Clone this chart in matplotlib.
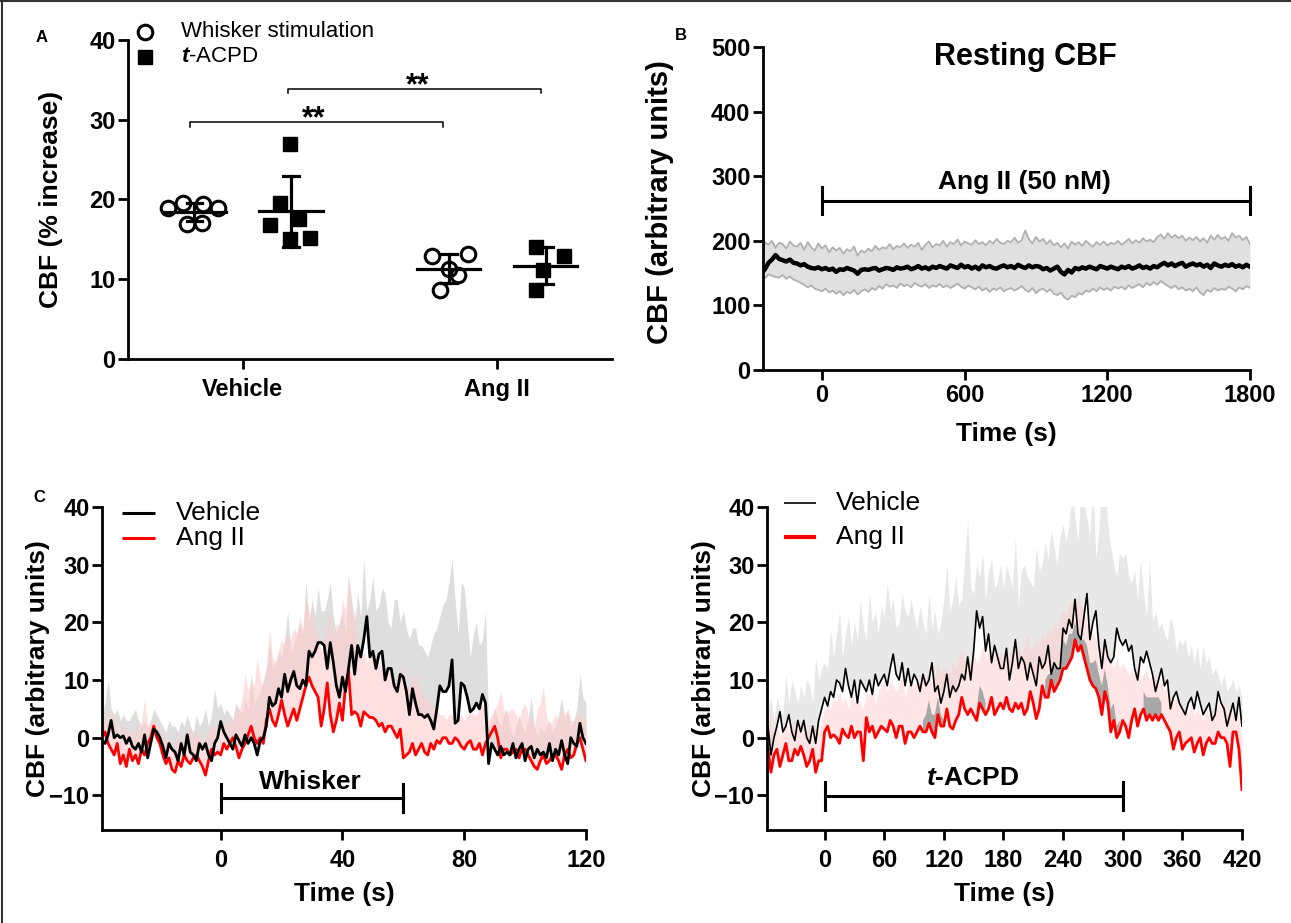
import numpy as np
import matplotlib.pyplot as plt
from matplotlib.lines import Line2D

plt.rcParams["font.family"] = ["Liberation Sans", "DejaVu Sans"]
plt.rcParams["font.weight"] = "bold"
plt.rcParams["axes.labelweight"] = "bold"
plt.rcParams["mathtext.fontset"] = "custom"
plt.rcParams["mathtext.rm"] = "Liberation Sans"
plt.rcParams["mathtext.it"] = "Liberation Sans:italic"
plt.rcParams["mathtext.bf"] = "Liberation Sans:bold"
plt.rcParams["mathtext.bfit"] = "Liberation Sans:italic:bold"

# ---- panel A: % increase in CBF per animal ----
group_labels = ["Vehicle", "Ang II"]
whisker_vehicle = [18.9, 19.5, 19.4, 18.9, 16.9, 17.0]
tacpd_vehicle = [26.9, 19.6, 16.8, 17.5, 15.0, 15.2]
whisker_angii = [12.9, 13.1, 11.3, 10.5, 8.7]
tacpd_angii = [14.05, 12.9, 11.1, 8.7]
# horizontal scatter of the points inside each column
whisker_vehicle_dx = [-0.104, -0.045, 0.033, 0.092, -0.030, 0.029]
tacpd_vehicle_dx = [-0.003, -0.042, -0.083, 0.033, -0.003, 0.073]
whisker_angii_dx = [-0.065, 0.075, 0.0, 0.035, -0.036]
tacpd_angii_dx = [-0.04, 0.07, -0.01, -0.04]

# ---- panel B: resting CBF, t = -255 .. 1800 s every 15 s ----
rest_t0, rest_dt = -255, 15
rest_mean = [
    150, 156, 166, 171, 178, 172, 170, 168, 171, 166,
    165, 162, 164, 160, 158, 157, 159, 156, 158, 155,
    157, 152, 156, 155, 158, 156, 154, 149, 155, 156,
    155, 157, 158, 154, 156, 158, 157, 155, 159, 157,
    158, 160, 156, 158, 161, 157, 159, 156, 160, 158,
    161, 159, 157, 162, 160, 158, 163, 159, 161, 157,
    160, 156, 162, 159, 161, 158, 157, 160, 162, 159,
    161, 158, 163, 160, 158, 162, 159, 161, 160, 156,
    158, 154, 157, 160, 152, 148, 155, 151, 158, 156,
    159, 157, 160, 158, 156, 161, 159, 157, 160, 158,
    156, 160, 158, 161, 157, 159, 162, 158, 160, 157,
    161, 159, 163, 166, 162, 165, 161, 164, 166, 160,
    163, 165, 162, 164, 160, 163, 158, 165, 162, 160,
    163, 161, 164, 160, 162, 159, 163, 160,
]
rest_upper = [
    160, 198, 194, 200, 189, 197, 195, 188, 199, 193,
    191, 197, 186, 198, 190, 185, 196, 188, 193, 182,
    190, 185, 189, 180, 187, 184, 191, 177, 185, 182,
    188, 184, 192, 186, 190, 188, 195, 187, 192, 190,
    196, 189, 194, 191, 197, 186, 194, 199, 190, 195,
    193, 200, 191, 198, 195, 202, 193, 199, 196, 194,
    201, 195, 198, 193, 200, 196, 203, 197, 195, 200,
    198, 205, 197, 201, 216, 203, 196, 206, 199, 203,
    195, 201, 193, 197, 190, 196, 188, 199, 194, 198,
    192, 200, 195, 191, 198, 194, 199, 193, 197, 195,
    200, 194, 198, 203, 196, 201, 197, 204, 199, 202,
    198, 206, 210, 203, 212, 205, 209, 204, 208, 200,
    205, 201, 206, 199, 204, 197, 208, 202, 209, 203,
    206, 200, 212, 205, 208, 201, 206, 195,
]
rest_lower = [
    140, 142, 148, 146, 144, 143, 147, 141, 145, 140,
    138, 135, 132, 128, 131, 126, 124, 122, 126, 120,
    123, 118, 122, 116, 121, 119, 124, 117, 122, 125,
    121, 127, 124, 130, 126, 133, 129, 131, 127, 134,
    130, 132, 128, 135, 131, 129, 133, 127, 131, 129,
    133, 128, 131, 127, 130, 134, 129, 126, 131, 128,
    125, 129, 123, 127, 121, 126, 124, 128, 122, 125,
    127, 123, 126, 130, 124, 121, 127, 119, 124, 126,
    121, 125, 118, 116, 120, 112, 109, 115, 113, 119,
    117, 123, 121, 126, 122, 128, 124, 127, 123, 129,
    126, 129, 125, 131, 127, 130, 133, 128, 135, 131,
    136, 132, 138, 134, 130, 127, 131, 125, 128, 123,
    126, 122, 128, 120, 116, 124, 121, 127, 123, 126,
    124, 129, 126, 122, 128, 125, 130, 127,
]

# ---- panel C left: whisker response, t = -39 .. 120 s every 1 s ----
whisk_t0, whisk_dt = -39, 1
whisk_vehicle = [
    -0.5, -1, 0.5, 3, 0, 0.5, 0, 0.3, -1, 0,
    -1.5, -2, -1, -2.5, 0.5, -3.5, -1, 1.5, 1, 0,
    -1.5, -3.5, -1, -2, -2.5, -4, -1, -3, 0.5, -2.5,
    -3, -4, -1, -2, -1, -3, -4, -1, 0, 2.8,
    1, 0, -1, -2, 0.5, -0.5, -1.5, 0.5, -1, 0,
    -1, -3, -0.5, 0, 2, 7, 5.5, 6, 8.5, 7,
    11, 8, 10, 11.5, 9, 8.5, 10, 9, 15, 14,
    15, 16.5, 16.5, 16, 12, 16.5, 13, 9, 7, 10.5,
    8, 12, 16, 11, 16, 14, 17, 21, 14, 15,
    12, 14.5, 15, 10, 12, 12, 9, 8, 11, 10.5,
    8, 4, 8.5, 6, 4, 4, 3.5, 4, 3, 1.5,
    5, 9, 8, 8, 9, 13.5, 2.5, 3, 9.5, 9,
    7, 4.5, 5, 6, 5, 7.5, 6, -4.5, -1, -2,
    -3, -1.5, -3, -2.5, -3, -1, -3.5, -2, -1, -4,
    -2, -1.5, -3.5, -2, -3, -2.5, -3.5, -1, -4, -2,
    -3, -0.5, -3, -4.5, 0, -1, -1.5, 2.5, 0, -1,
]
whisk_vehicle_upper = [
    4, 6, 10, 5, 4, 5, 3, 4, 3, 3,
    4, 5, 3, 2, 3, 1.5, 3, 5, 4, 3,
    2, 1, 3, 2, 2, 1, 3, 2, 4, 2,
    1, 4, 2, 3, 5, 2, 4, 8.5, 5, 6,
    4, 5, 4, 3, 6, 5, 4, 7, 5, 11,
    6, 7, 8, 10, 12, 17, 12, 13, 15, 14,
    17, 22, 15, 16, 18, 20, 18, 27, 20, 24,
    21, 26, 22, 22, 24, 27, 21, 18, 20, 22,
    18, 28, 24, 20, 25, 21, 31, 22, 24, 28,
    22, 23, 26, 25, 20, 19, 24, 24, 20, 22,
    19, 17, 19, 19, 16, 16, 15, 14, 16, 18,
    19, 21, 23, 24, 27, 31, 24, 18, 27, 26,
    20, 14, 18, 20, 16, 17, 22, 2, 3, 5,
    3, 2, 4, 5, 2, 0, 2, 4, 2, 1,
    3, 7, 2, 0, 2, 1, 2, 3, 1, 2,
    4, 7, 3, 5, 2, 3, 5, 11, 7, 6,
]
whisk_angii = [
    0, 1, -1, -2, -3, -1, -4.5, -3, -5, -2,
    -4, -3, -4.5, -2, -3, -1, 0, 2, 0, -1,
    -3, -4.5, -3.5, -5.5, -6, -4, -5, -3, -4, -4.5,
    -3.5, -3, -4, -5, -6.5, -4, -2, -3, -2.5, -3,
    -1, -2, -1, 0, -1.5, -3.5, -2, -1, 0.5, 2,
    0, -1, 0, -1, 3, 5, 3, 2, 4, 6.5,
    4, 2, 3.5, 5, 3, 5, 7, 9, 10.5, 9,
    8, 7, 2, 5, 9.5, 4, 1, 3, 6, 3,
    9, 11.5, 4, 4.5, 4, 2, 4.5, 4, 3.5, 3.5,
    3, 2, 2.5, 1, 2, 2, 1, 0, 1.5, -3.5,
    -3, -2.5, -1, -3, -2, -1, -2.5, -3, -1, -2,
    -0.5, -1, 0, 0, -1, -1, 0, -0.5, -1.5, -2,
    -1, -0.5, -2, -2, -1, -3, -1, 0, 1, 2,
    0, -3.5, -2, -2, -3, -2.5, -2, -3.5, -2, -2,
    -3, -4, -5, -5.5, -4, -3, -4.5, -4, -3, -3,
    -4, -5.5, -3, -2, -3.5, -3, -1, 0, -2, -4,
]
whisk_angii_upper = [
    6, 3, 2, 5, 3, 2, 0, 3, 1, 1,
    0, 2, 0, 3, 7, 2, 3, 3, 2, 1,
    0, -1, 0, -2, -2, 1, -1, 1, 0, 2,
    0, 1, 0, -1, 0, 1, 2, 2, 1, 1,
    3, 2, 4, 3, 6, 4, 7, 11, 8, 10,
    9, 14, 10, 9, 12, 19, 14, 13, 15, 17,
    16, 18, 17, 19, 18, 21, 19, 25, 22, 21,
    19, 18, 15, 16, 19, 22, 17, 20, 19, 24,
    22, 28.5, 21, 22, 16, 14, 15, 13, 14, 15,
    13, 13, 12, 12, 11, 12, 10, 9, 11, 12,
    9, 9, 10, 11, 9, 8, 7, 7, 6, 5,
    5, 4, 4, 3, 4, 4, 3, 3, 4, 3,
    4, 5, 4, 4, 5, 6, 4, 3, 4, 5,
    6, 8, 5, 4, 5, 5, 4, 3, 5, 6,
    4, 3, 2, 5, 6, 9, 4, 2, 3, 4,
    3, 5, 4, 5, 3, 3, 4, 4, 3, 3,
]

# ---- panel C right: t-ACPD response, t = -57 .. 420 s every 3 s ----
acpd_t0, acpd_dt = -57, 3
acpd_vehicle = [
    2, -3, 0, 2, 4.5, 1, 2, 4, 1, -0.5,
    3, 1, 3, 0, -1, 2, -1, 3, 5, 7,
    5.5, 8, 7, 10, 9.5, 8, 12, 9, 7, 10,
    6, 10, 9, 8, 10, 7.5, 11, 9, 10, 11,
    9, 12, 14.5, 11, 10, 13, 9, 12, 9, 11,
    10, 8, 11, 9, 10, 13, 8, 9, 6, 8,
    11, 7, 9, 8, 9, 11, 10, 14, 10, 15,
    22, 19, 21, 15, 18, 13, 16, 14, 12, 12,
    15.5, 10, 13, 17, 12, 14, 13, 10, 13, 11,
    9, 14, 12, 13, 16, 11, 13, 12, 12, 19,
    18, 20.5, 19, 24, 18, 17, 21, 25, 17, 20,
    22, 16, 12, 17, 14, 13, 14, 19, 17, 16,
    17, 15, 16, 12, 10, 14, 13, 15, 13, 11,
    8, 10, 12, 9, 10, 5, 7, 8, 6, 5,
    4, 6, 7, 5, 8, 6, 4, 5, 6, 3,
    4, 8, 6, 5, 2, 4, 6, 3, 7, 2,
]
acpd_vehicle_upper = [
    5, 7, 3, 7, 5, 4, 11, 6, 10, 8,
    6, 9, 7, 10, 9, 6, 14, 10, 12, 13,
    12, 19, 14, 18, 22, 14, 18, 21, 16, 20,
    17, 24, 19, 17, 25, 20, 22, 18, 23, 21,
    27, 22, 24, 19, 20, 25, 22, 21, 24, 21,
    19, 23, 20, 18, 25, 19, 22, 18, 20, 24,
    30, 22, 24, 28, 23, 24, 31, 38, 26, 25,
    30, 28, 32, 24, 29, 31, 26, 27, 30, 26,
    30, 28, 26, 35, 23, 29, 30, 28, 27, 26,
    33, 29, 30, 34, 31, 36, 33, 30, 35, 37,
    34, 37, 44, 38, 34, 44, 41, 38, 35, 44,
    31, 36, 44, 44, 37, 33, 30, 28, 32, 31,
    32, 28, 27, 29, 24, 31, 25, 21, 31, 20,
    22, 19, 20, 18, 17, 21, 19, 15, 17, 16,
    17, 14, 16, 13, 16, 12, 16, 13, 14, 11,
    12, 11, 9, 11, 8, 9, 10, 8, 9, 7,
]
acpd_angii = [
    -2, -6, -3, -2, -5, -3, -1, -4, -4, -2,
    -3, -1.5, -3, -5, -4, -2, -6, -4, -4, 1,
    2, 0, 0.5, 0, -1, 1.5, 0.5, 0, 2, 0,
    1, 1, -4, 3.5, 1, 2, 0, 1, 2, 1.5,
    1, 3, 2, 0, 2, 2, -1, 1, 1, 0,
    1, 2, 1, 1, 2.5, 1, 0, 4, 2, 2,
    5, 2, 1.5, 3, 4, 7, 5, 4, 5, 4,
    3, 6, 5, 4, 5, 7, 4, 5, 6, 5,
    7, 5, 4.5, 6, 5, 6, 4, 5, 8, 6,
    3.3, 5, 9, 7, 7, 10, 8, 9, 10, 12,
    12, 13, 14, 17, 15, 16, 14, 12, 10, 9,
    8.5, 7, 4, 8, 6, 1, 3, 0, 1, 3,
    2, 0, 3, 5, 2, 4, 5, 3, 4, 3,
    4, 3, 4, 3, 2, 1, -2, 0, 1, -2,
    -1, -0.5, 0, -2.5, -1, 0, -3, -1, 0, -1,
    -1, 1, 0, 0, -1, -5, 1, 1, -2, -9,
]
acpd_angii_upper = [
    5, 2, 1, 3, 0, 2, 3, 1, 2, 3,
    1, 3, 2, 0, 3, 1, 2, 1, 3, 5,
    6, 5, 7, 6, 8, 6, 7, 5, 8, 6,
    7, 6, 5, 8, 7, 9, 6, 8, 9, 10,
    8, 10, 9, 8, 9, 11, 7, 9, 10, 9,
    10, 9, 11, 10, 12, 9, 11, 13, 11, 12,
    12, 11, 13, 12, 14, 15, 13, 14, 13, 15,
    13, 14, 16, 14, 15, 13, 16, 14, 15, 14,
    15, 14, 16, 15, 17, 14, 16, 18, 15, 16,
    17, 16, 18, 17, 19, 18, 20, 19, 21, 22,
    21, 23, 24, 22, 25, 23, 22, 20, 19, 18,
    17, 16, 15, 17, 14, 13, 12, 14, 12, 13,
    12, 11, 12, 11, 13, 10, 11, 12, 10, 11,
    10, 9, 10, 8, 9, 7, 6, 7, 6, 5,
    5, 4, 6, 4, 5, 4, 3, 5, 4, 5,
    4, 6, 5, 7, 4, 5, 4, 6, 3, 0,
]
# depth of the darker overlap shading that sits just above the Ang II trace
acpd_overlap = [
    0, 0, 0, 0, 0, 0, 0, 0, 0, 0,
    0, 0, 0, 0, 0, 0, 0, 0, 0, 0,
    0, 0, 0, 0, 0, 0, 0, 0, 0, 0,
    0, 0, 0, 0, 0, 0, 0, 0, 0, 0,
    0, 0, 0, 0, 0, 0, 0, 0, 0, 0,
    0, 0, 2, 3, 4, 3, 4, 3, 2, 1,
    0, 0, 0, 0, 0, 0, 0, 0, 0, 0,
    2, 3, 3, 2, 0, 0, 0, 0, 0, 0,
    0, 0, 0, 0, 0, 0, 0, 0, 0, 0,
    0, 0, 0, 3, 4, 3, 5, 4, 3, 5,
    4, 5, 4, 3, 4, 5, 3, 4, 3, 4,
    5, 4, 5, 4, 3, 4, 3, 2, 2, 0,
    0, 0, 0, 0, 0, 0, 3, 4, 3, 4,
    3, 4, 2, 0, 0, 0, 0, 0, 0, 0,
    0, 0, 0, 0, 0, 0, 0, 0, 0, 0,
    0, 0, 0, 0, 0, 0, 0, 0, 0, 0,
]

TICK_SIZE = 17
GRAY_FILL = "#d9d9d9"
PINK_FILL = "#ffcccc"


def style_axes(ax, xpad=7):
    for side in ("top", "right"):
        ax.spines[side].set_visible(False)
    for side in ("left", "bottom"):
        ax.spines[side].set_linewidth(2.0)
    ax.tick_params(direction="out", length=7, width=2, labelsize=TICK_SIZE)
    ax.tick_params(axis="x", pad=xpad)
    ax.tick_params(axis="y", pad=2)


def time_axis(t0, dt, n):
    return t0 + dt * np.arange(n)


def plot_scatter(ax):
    centers = [-0.19, 0.19, 0.81, 1.19]
    groups = [
        (whisker_vehicle, whisker_vehicle_dx, "o"),
        (tacpd_vehicle, tacpd_vehicle_dx, "s"),
        (whisker_angii, whisker_angii_dx, "o"),
        (tacpd_angii, tacpd_angii_dx, "s"),
    ]
    for c, (vals, dx, mk) in zip(centers, groups):
        vals = np.asarray(vals)
        xs = c + np.asarray(dx)
        if mk == "o":
            ax.plot(xs, vals, "o", ms=10.5, mfc="none", mec="black", mew=2.2, zorder=3)
        else:
            ax.plot(xs, vals, "s", ms=10, mfc="black", mec="black", zorder=3)
        m = vals.mean()
        sd = vals.std(ddof=1)
        ax.plot([c - 0.124, c + 0.124], [m, m], color="black", lw=2.3, zorder=4)
        ax.plot([c, c], [m - sd, m + sd], color="black", lw=2.3, zorder=4)
        for y in (m - sd, m + sd):
            ax.plot([c - 0.03, c + 0.03], [y, y], color="black", lw=2.3, zorder=4)

    # significance brackets
    brackets = [(-0.207, 0.786, 29.7, 0.28), (0.179, 1.172, 33.9, 0.686)]
    for x0, x1, y, xstar in brackets:
        ax.plot([x0, x0, x1, x1], [y - 0.6, y, y, y - 0.6], color="black", lw=1.1)
        ax.text(xstar, y - 0.7, "**", ha="center", va="baseline", fontsize=22)

    ax.set_xlim(-0.45, 1.45)
    ax.set_ylim(0, 40)
    ax.set_xticks([0, 1])
    ax.set_xticklabels(group_labels)
    ax.set_yticks([0, 10, 20, 30, 40])
    ax.set_ylabel("CBF (% increase)", fontsize=19)
    ax.yaxis.set_label_coords(-0.134, 0.5)
    style_axes(ax)

    # key
    ax.plot([0.035], [1.025], "o", ms=10.5, mfc="none", mec="black", mew=2.2,
            transform=ax.transAxes, clip_on=False)
    ax.plot([0.035], [0.947], "s", ms=10, mfc="black", mec="black",
            transform=ax.transAxes, clip_on=False)
    ax.text(0.11, 1.025, "Whisker stimulation", transform=ax.transAxes, fontsize=16,
            fontweight="normal", va="center")
    ax.text(0.11, 0.947, r"$\mathit{t}$-ACPD", transform=ax.transAxes, fontsize=16,
            fontweight="normal", va="center")


def plot_resting(ax):
    t = time_axis(rest_t0, rest_dt, len(rest_mean))
    ax.fill_between(t, rest_lower, rest_upper, color="#e0e0e0", lw=0)
    ax.plot(t, rest_upper, color="#b0b0b0", lw=1.3)
    ax.plot(t, rest_lower, color="#b0b0b0", lw=1.3)
    ax.plot(t, rest_mean, color="black", lw=3.2)

    ax.plot([0, 1800], [262, 262], color="black", lw=2.2, clip_on=False)
    for x in (0, 1800):
        ax.plot([x, x], [241, 283], color="black", lw=2.2, clip_on=False)
    ax.text(850, 291, "Ang II (50 nM)", ha="center", va="center", fontsize=19)
    ax.text(855, 484, "Resting CBF", ha="center", va="center", fontsize=22)

    ax.set_xlim(-248, 1800)
    ax.set_ylim(0, 500)
    ax.set_xticks([0, 600, 1200, 1800])
    ax.set_yticks([0, 100, 200, 300, 400, 500])
    ax.set_xlabel("Time (s)", fontsize=19, labelpad=11)
    ax.set_ylabel("CBF (arbitrary units)", fontsize=21)
    ax.yaxis.set_label_coords(-0.183, 0.52)
    style_axes(ax, xpad=3)


def add_trace_key(ax, x0, x1, xt, ys, lws):
    for y, lw, color, label in zip(ys, lws, ["black", "red"], ["Vehicle", "Ang II"]):
        ax.plot([x0, x1], [y, y], color=color, lw=lw, transform=ax.transAxes,
                clip_on=False, solid_capstyle="butt")
        ax.text(xt, y, label, transform=ax.transAxes, fontsize=19, fontweight="normal",
                va="center")


def plot_whisker(ax):
    t = time_axis(whisk_t0, whisk_dt, len(whisk_vehicle))
    ax.fill_between(t, whisk_vehicle, whisk_vehicle_upper, color=GRAY_FILL, alpha=0.85, lw=0)
    ax.fill_between(t, whisk_angii, whisk_angii_upper, color=PINK_FILL, alpha=0.6, lw=0)
    ax.plot(t, whisk_angii, color="#ff0000", lw=2)
    ax.plot(t, whisk_vehicle, color="black", lw=2)

    ax.plot([0, 60], [-10.5, -10.5], color="black", lw=2.2)
    for x in (0, 60):
        ax.plot([x, x], [-8.0, -12.9], color="black", lw=2.2)
    ax.text(29.4, -7.6, "Whisker", ha="center", va="center", fontsize=19)

    ax.set_xlim(-39, 120)
    ax.set_ylim(-16, 40)
    ax.set_xticks([0, 40, 80, 120])
    ax.set_yticks([-10, 0, 10, 20, 30, 40])
    ax.set_xlabel("Time (s)", fontsize=19, labelpad=7)
    ax.set_ylabel("CBF (arbitrary units)", fontsize=19)
    ax.yaxis.set_label_coords(-0.107, 0.5)
    style_axes(ax)
    add_trace_key(ax, 0.041, 0.110, 0.152, [0.981, 0.904], [2.2, 2.2])


def plot_acpd(ax):
    t = time_axis(acpd_t0, acpd_dt, len(acpd_vehicle))
    veh = np.asarray(acpd_vehicle, dtype=float)
    ang = np.asarray(acpd_angii, dtype=float)
    ax.fill_between(t, veh, acpd_vehicle_upper, color="#e6e6e6", alpha=0.9, lw=0)
    ax.fill_between(t, ang, acpd_angii_upper, color=PINK_FILL, alpha=0.5, lw=0)
    dark_top = np.minimum(ang + np.asarray(acpd_overlap), veh)
    ax.fill_between(t, ang, dark_top, where=dark_top > ang, color="#a8a8a8", lw=0)
    ax.plot(t, ang, color="#ff0000", lw=2)
    ax.plot(t, veh, color="black", lw=1.2)

    ax.plot([0, 300], [-10.1, -10.1], color="black", lw=2.2)
    for x in (0, 300):
        ax.plot([x, x], [-7.7, -12.6], color="black", lw=2.2)
    ax.text(149, -7.0, r"$\mathbfit{t}$-ACPD", ha="center", va="center", fontsize=19)

    ax.set_xlim(-58, 420)
    ax.set_ylim(-16, 40)
    ax.set_xticks(np.arange(0, 421, 60))
    ax.set_yticks([-10, 0, 10, 20, 30, 40])
    ax.set_xlabel("Time (s)", fontsize=19, labelpad=7)
    ax.set_ylabel("CBF (arbitrary units)", fontsize=19)
    ax.yaxis.set_label_coords(-0.108, 0.5)
    style_axes(ax)
    add_trace_key(ax, 0.036, 0.103, 0.145, [1.012, 0.908], [1.2, 3.0])


def main():
    fig = plt.figure(figsize=(12.91, 9.23), dpi=100)

    ax_a = fig.add_axes([0.0991, 0.6111, 0.3749, 0.3456])
    ax_b = fig.add_axes([0.5910, 0.5991, 0.3772, 0.3499])
    ax_c1 = fig.add_axes([0.0790, 0.1008, 0.3749, 0.3499])
    ax_c2 = fig.add_axes([0.5941, 0.1008, 0.3679, 0.3499])

    plot_scatter(ax_a)
    plot_resting(ax_b)
    plot_whisker(ax_c1)
    plot_acpd(ax_c2)

    # panel letters
    fig.text(42 / 1291, 1 - 37 / 923, "A", ha="center", va="center", fontsize=12)
    fig.text(681 / 1291, 1 - 36 / 923, "B", ha="center", va="center", fontsize=12)
    fig.text(39 / 1291, 1 - 497 / 923, "C", ha="center", va="center", fontsize=12)

    # frame lines on the top and left edge
    fig.add_artist(Line2D([0, 1], [0.9985, 0.9985], color="#333333", lw=1.5))
    fig.add_artist(Line2D([0.0012, 0.0012], [0, 1], color="#333333", lw=1.5))

    fig.savefig("out.png", dpi=100)
    plt.close(fig)


if __name__ == "__main__":
    main()
